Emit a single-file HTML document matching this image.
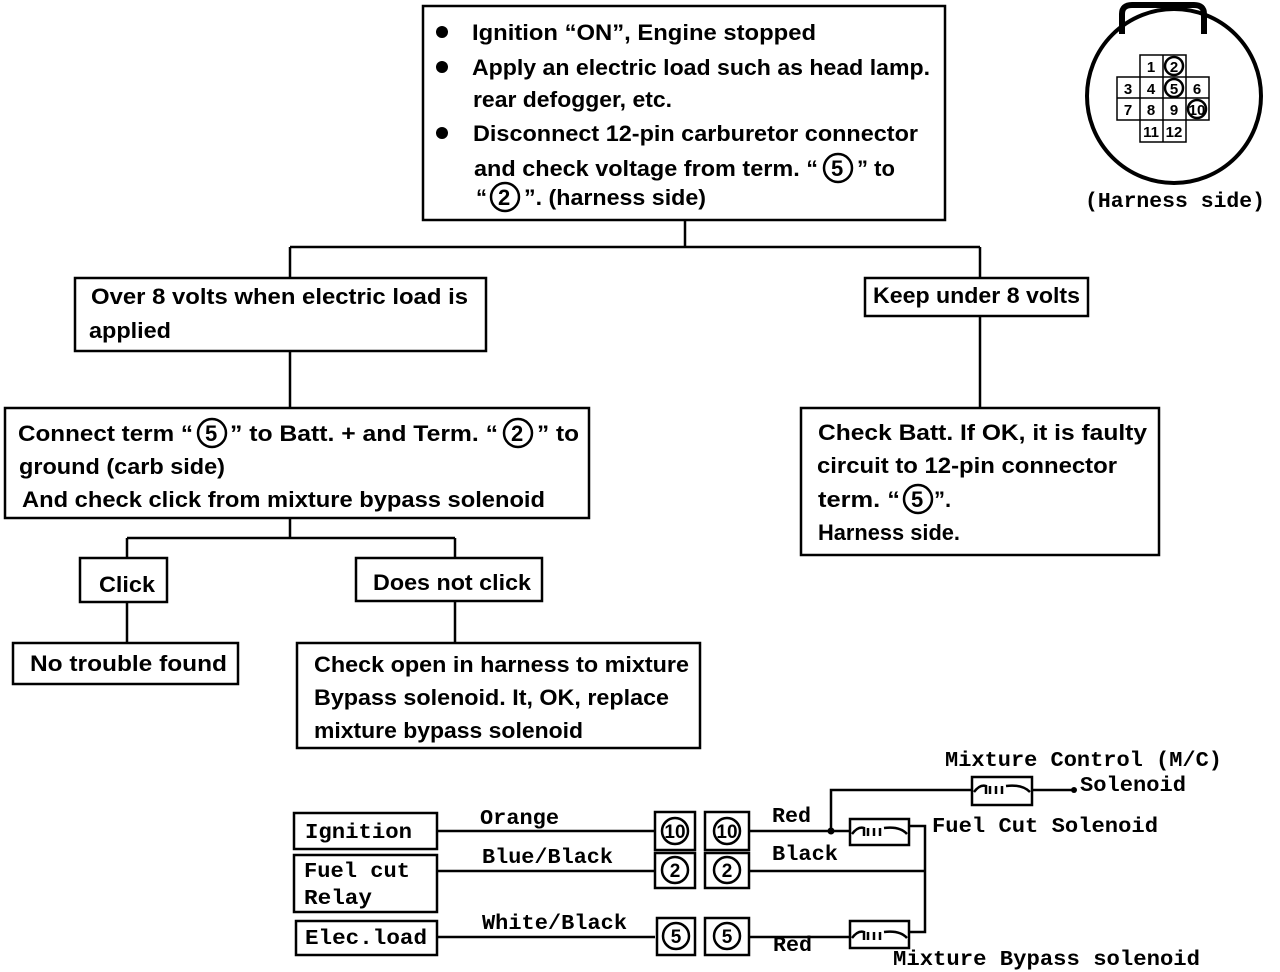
<!DOCTYPE html>
<html><head><meta charset="utf-8"><style>
html,body{margin:0;padding:0;background:#fff;}
svg{display:block;}
.s{font-family:"Liberation Sans",Arial,sans-serif;font-size:22px;font-weight:bold;fill:#000;}
.m{font-family:"Liberation Mono",monospace;font-size:21px;font-weight:bold;fill:#000;}
</style></head><body>
<svg width="1280" height="972" viewBox="0 0 1280 972" xmlns="http://www.w3.org/2000/svg">
<g fill="none" stroke="#000" stroke-width="2.5">
<rect x="423" y="6" width="522" height="214"/>
<path d="M685 220V247M290 247H980M290 247V278M980 247V278"/>
<rect x="75" y="278" width="411" height="73"/>
<rect x="865" y="278" width="223" height="38"/>
<path d="M290 351V408M980 316V408"/>
<rect x="5" y="408" width="584" height="110"/>
<rect x="801" y="408" width="358" height="147"/>
<path d="M290 518V538M127 538H455M127 538V558M455 538V558"/>
<rect x="80" y="558" width="87" height="44"/>
<rect x="356" y="558" width="186" height="43"/>
<path d="M127 602V643M455 601V643"/>
<rect x="13" y="643" width="225" height="41"/>
<rect x="297" y="643" width="403" height="105"/>
<circle cx="838" cy="168" r="14"/><circle cx="505" cy="197" r="14"/>
<circle cx="212" cy="433" r="14"/><circle cx="518" cy="433" r="14"/>
<circle cx="918" cy="499" r="14"/>
<circle cx="1174" cy="96" r="87" stroke-width="4"/>
<path d="M1122 34V14Q1122 5 1132 5H1194Q1204 5 1204 14V34" stroke-width="6"/>
<path d="M1140 55H1186V142H1140ZM1117 77H1209V120H1117ZM1163 55V142M1140 77V120M1186 77V120M1117 98H1209M1140 120H1186" stroke-width="1.5"/>
<circle cx="1174" cy="66" r="9"/><circle cx="1174" cy="88" r="9"/><circle cx="1197" cy="109" r="9"/>
<rect x="294" y="813" width="143" height="36"/>
<rect x="294" y="855" width="143" height="57"/>
<rect x="296" y="921" width="141" height="34"/>
<path d="M437 831H655M437 871H655M437 937H655" />
<rect x="655" y="812" width="40" height="38"/><rect x="705" y="812" width="44" height="38"/>
<rect x="655" y="853" width="40" height="35"/><rect x="705" y="853" width="44" height="35"/>
<rect x="657" y="918" width="38" height="37"/><rect x="705" y="918" width="44" height="37"/>
<circle cx="675" cy="831" r="13"/><circle cx="727" cy="831" r="13"/>
<circle cx="675" cy="870" r="13"/><circle cx="727" cy="870" r="13"/>
<circle cx="676" cy="936" r="13"/><circle cx="727" cy="936" r="13"/>
<path d="M749 831H850M831 831V790H972M1032 790H1072M909 826H925V932H909M749 871H925M749 937H850"/>
<rect x="850" y="819" width="59" height="26"/>
<rect x="850" y="921" width="59" height="27"/>
<rect x="972" y="777" width="60" height="28"/>
<path d="M852 834Q858 826 864 828V836M868 828V836M874 828V836M880 828V836M884 828Q900 826 907 834"/>
<path d="M852 938Q858 930 864 932V940M868 932V940M874 932V940M880 932V940M884 932Q900 930 907 938"/>
<path d="M974 792Q980 784 986 786V794M990 786V794M996 786V794M1002 786V794M1006 786Q1022 784 1030 792"/>
</g>
<circle cx="831" cy="831" r="3.5"/><circle cx="1074" cy="790" r="3"/>
<circle cx="442" cy="32" r="6"/><circle cx="442" cy="67" r="6"/><circle cx="442" cy="133" r="6"/>
<g class="s">
<text x="472" y="40" textLength="344" lengthAdjust="spacingAndGlyphs">Ignition “ON”, Engine stopped</text>
<text x="472" y="75" textLength="458" lengthAdjust="spacingAndGlyphs">Apply an electric load such as head lamp.</text>
<text x="473" y="107" textLength="199" lengthAdjust="spacingAndGlyphs">rear defogger, etc.</text>
<text x="473" y="141" textLength="445" lengthAdjust="spacingAndGlyphs">Disconnect 12-pin carburetor connector</text>
<text x="474" y="176" textLength="344" lengthAdjust="spacingAndGlyphs">and check voltage from term. “</text>
<text x="831" y="176">5</text><text x="857" y="176">” to</text>
<text x="476" y="205">“</text><text x="498" y="205">2</text>
<text x="524" y="205" textLength="182" lengthAdjust="spacingAndGlyphs">”. (harness side)</text>
<text x="91" y="304" textLength="377" lengthAdjust="spacingAndGlyphs">Over 8 volts when electric  load is</text>
<text x="89" y="338" textLength="82" lengthAdjust="spacingAndGlyphs">applied</text>
<text x="873" y="303" textLength="207" lengthAdjust="spacingAndGlyphs">Keep under 8 volts</text>
<text x="18" y="441" textLength="175" lengthAdjust="spacingAndGlyphs">Connect term “</text><text x="205" y="441">5</text>
<text x="230" y="441" textLength="268" lengthAdjust="spacingAndGlyphs">” to Batt. + and Term. “</text><text x="511" y="441">2</text>
<text x="537" y="441" textLength="42" lengthAdjust="spacingAndGlyphs">” to</text>
<text x="19" y="474" textLength="206" lengthAdjust="spacingAndGlyphs">ground (carb side)</text>
<text x="22" y="507" textLength="523" lengthAdjust="spacingAndGlyphs">And check click from mixture bypass solenoid</text>
<text x="818" y="440" textLength="329" lengthAdjust="spacingAndGlyphs">Check Batt. If OK, it is faulty</text>
<text x="817" y="473" textLength="300" lengthAdjust="spacingAndGlyphs">circuit to 12-pin connector</text>
<text x="818" y="507" textLength="82" lengthAdjust="spacingAndGlyphs">term. “</text><text x="911" y="507">5</text><text x="934" y="507">”.</text>
<text x="818" y="540" textLength="142" lengthAdjust="spacingAndGlyphs">Harness side.</text>
<text x="99" y="592" textLength="56" lengthAdjust="spacingAndGlyphs">Click</text>
<text x="373" y="590" textLength="158" lengthAdjust="spacingAndGlyphs">Does not click</text>
<text x="30" y="671" textLength="197" lengthAdjust="spacingAndGlyphs">No trouble found</text>
<text x="314" y="672" textLength="375" lengthAdjust="spacingAndGlyphs">Check open in harness to mixture</text>
<text x="314" y="705" textLength="355" lengthAdjust="spacingAndGlyphs">Bypass solenoid. It, OK, replace</text>
<text x="314" y="738" textLength="269" lengthAdjust="spacingAndGlyphs">mixture bypass solenoid</text>
</g>
<g class="s" style="font-size:15px" text-anchor="middle">
<text x="1151" y="72">1</text><text x="1174" y="72">2</text>
<text x="1128" y="94">3</text><text x="1151" y="94">4</text><text x="1174" y="94">5</text><text x="1197" y="94">6</text>
<text x="1128" y="115">7</text><text x="1151" y="115">8</text><text x="1174" y="115">9</text><text x="1197" y="115">10</text>
<text x="1151" y="137">11</text><text x="1174" y="137">12</text>
</g>
<g class="s" style="font-size:19px" text-anchor="middle">
<text x="675" y="838">10</text><text x="727" y="838">10</text>
<text x="675" y="877">2</text><text x="727" y="877">2</text>
<text x="676" y="943">5</text><text x="727" y="943">5</text>
</g>
<g class="m">
<text x="1085" y="207" textLength="180" lengthAdjust="spacingAndGlyphs">(Harness side)</text>
<text x="945" y="766" textLength="277" lengthAdjust="spacingAndGlyphs">Mixture Control (M/C)</text>
<text x="1080" y="791" textLength="106" lengthAdjust="spacingAndGlyphs">Solenoid</text>
<text x="932" y="832" textLength="226" lengthAdjust="spacingAndGlyphs">Fuel Cut Solenoid</text>
<text x="893" y="965" textLength="307" lengthAdjust="spacingAndGlyphs">Mixture Bypass solenoid</text>
<text x="480" y="824" textLength="79" lengthAdjust="spacingAndGlyphs">Orange</text>
<text x="482" y="863" textLength="131" lengthAdjust="spacingAndGlyphs">Blue/Black</text>
<text x="482" y="929" textLength="145" lengthAdjust="spacingAndGlyphs">White/Black</text>
<text x="772" y="822" textLength="39" lengthAdjust="spacingAndGlyphs">Red</text>
<text x="772" y="860" textLength="66" lengthAdjust="spacingAndGlyphs">Black</text>
<text x="773" y="951" textLength="39" lengthAdjust="spacingAndGlyphs">Red</text>
<text x="305" y="838" textLength="107" lengthAdjust="spacingAndGlyphs">Ignition</text>
<text x="304" y="877" textLength="106" lengthAdjust="spacingAndGlyphs">Fuel cut</text>
<text x="304" y="904" textLength="68" lengthAdjust="spacingAndGlyphs">Relay</text>
<text x="305" y="944" textLength="122" lengthAdjust="spacingAndGlyphs">Elec.load</text>
</g>
</svg>
</body></html>
